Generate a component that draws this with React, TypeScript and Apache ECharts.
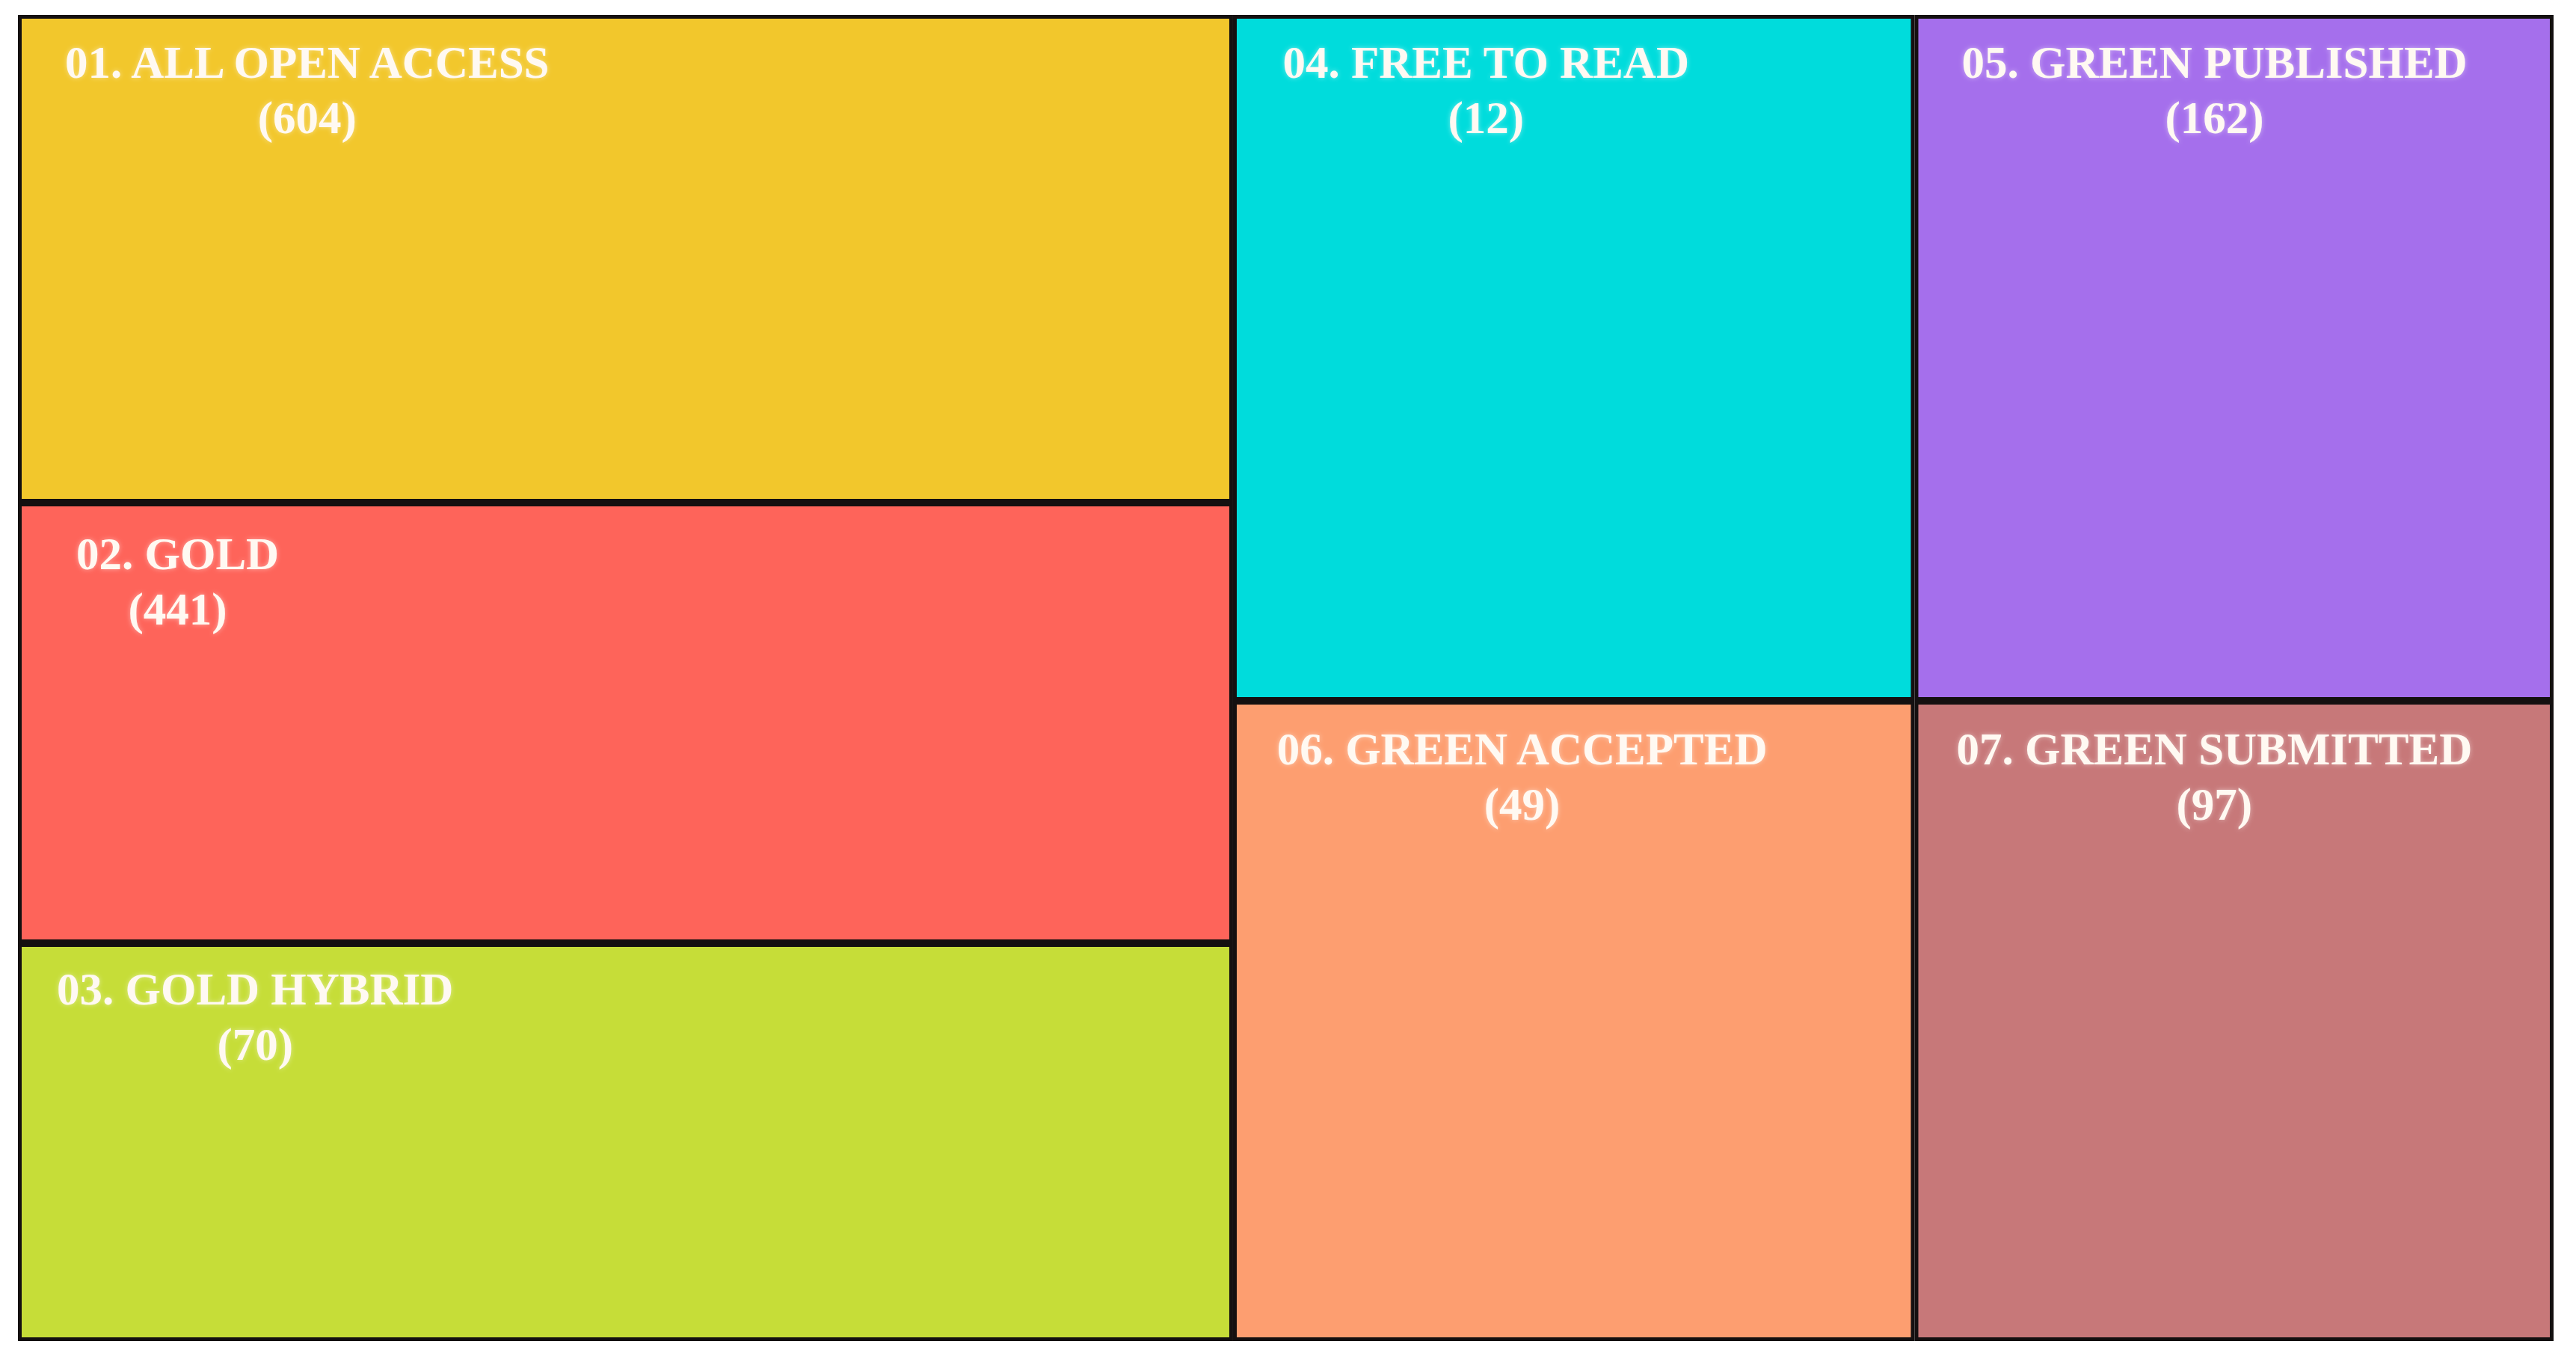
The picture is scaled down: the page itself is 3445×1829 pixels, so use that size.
import React, { useEffect, useRef } from "react";
import * as echarts from "echarts";

// ---- data ----
const categories = [
  "01. ALL OPEN ACCESS",
  "02. GOLD",
  "03. GOLD HYBRID",
  "04. FREE TO READ",
  "05. GREEN PUBLISHED",
  "06. GREEN ACCEPTED",
  "07. GREEN SUBMITTED",
];
const counts = [604, 441, 70, 12, 162, 49, 97];

// ---- layout (cell bounds in axis units, 0..100) ----
const colX = [0, 47.92, 74.8, 100];
const leftRowY = [0, 36.77, 70.0, 100];
const rightRowY = [0, 51.72, 100];
// [x0, x1, y0, y1] per category
const cellBounds = [
  [colX[0], colX[1], leftRowY[0], leftRowY[1]],
  [colX[0], colX[1], leftRowY[1], leftRowY[2]],
  [colX[0], colX[1], leftRowY[2], leftRowY[3]],
  [colX[1], colX[2], rightRowY[0], rightRowY[1]],
  [colX[2], colX[3], rightRowY[0], rightRowY[1]],
  [colX[1], colX[2], rightRowY[1], rightRowY[2]],
  [colX[2], colX[3], rightRowY[1], rightRowY[2]],
];
const labelPadX = [58, 78, 52, 66, 63, 57, 56];
const labelPadY = [26, 32, 24, 26, 26, 28, 28];

// ---- styles ----
const colors = ["#F2C72C", "#FE645A", "#C6DD38", "#00DCDC", "#A56FEC", "#FD9E70", "#C77879"];
const FONT_SIZE = 61;
const FONT_FAMILY = '"Liberation Serif", "Times New Roman", serif';
const LINE_HEIGHT = 74;
const BORDER = 5;

function measure(text: string): number {
  const c = document.createElement("canvas");
  const ctx = c.getContext("2d");
  if (!ctx) return text.length * FONT_SIZE * 0.55;
  ctx.font = `bold ${FONT_SIZE}px ${FONT_FAMILY}`;
  return ctx.measureText(text).width;
}

export default function App() {
  const ref = useRef<HTMLDivElement>(null);

  useEffect(() => {
    if (!ref.current) return;
    const chart = echarts.init(ref.current, undefined, { renderer: "svg" });

    const data = categories.map((name, i) => ({
      name,
      value: [cellBounds[i][0], cellBounds[i][1], cellBounds[i][2], cellBounds[i][3], i],
    }));
    const widths = categories.map((c) => measure(c));

    chart.setOption({
      animation: false,
      backgroundColor: "#ffffff",
      grid: { left: 24, right: 30, top: 20, bottom: 36 },
      xAxis: { type: "value", min: 0, max: 100, show: false },
      yAxis: { type: "value", min: 0, max: 100, inverse: true, show: false },
      series: [
        {
          type: "custom",
          coordinateSystem: "cartesian2d",
          encode: { x: [0, 1], y: [2, 3] },
          data,
          renderItem: (params: any, api: any) => {
            const i = api.value(4);
            const p0 = api.coord([api.value(0), api.value(2)]);
            const p1 = api.coord([api.value(1), api.value(3)]);
            const x = p0[0];
            const y = p0[1];
            const w = p1[0] - p0[0];
            const h = p1[1] - p0[1];
            const text = `${categories[i]}\n(${counts[i]})`;
            return {
              type: "group",
              children: [
                {
                  type: "rect",
                  shape: {
                    x: x + BORDER / 2,
                    y: y + BORDER / 2,
                    width: w - BORDER,
                    height: h - BORDER,
                  },
                  style: { fill: colors[i], stroke: "#141010", lineWidth: BORDER },
                },
                {
                  type: "text",
                  style: {
                    text,
                    x: x + labelPadX[i] + widths[i] / 2,
                    y: y + labelPadY[i],
                    align: "center",
                    verticalAlign: "top",
                    fill: "#FFF9F2",
                    fontFamily: FONT_FAMILY,
                    fontWeight: "bold",
                    fontSize: FONT_SIZE,
                    lineHeight: LINE_HEIGHT,
                    textShadowColor: "rgba(255,255,255,0.45)",
                    textShadowBlur: 6,
                  },
                },
              ],
            };
          },
        },
      ],
    });

    return () => chart.dispose();
  }, []);

  return (
    <div
      ref={ref}
      style={{ position: "fixed", left: 0, top: 0, width: "100vw", height: "100vh" }}
    />
  );
}
